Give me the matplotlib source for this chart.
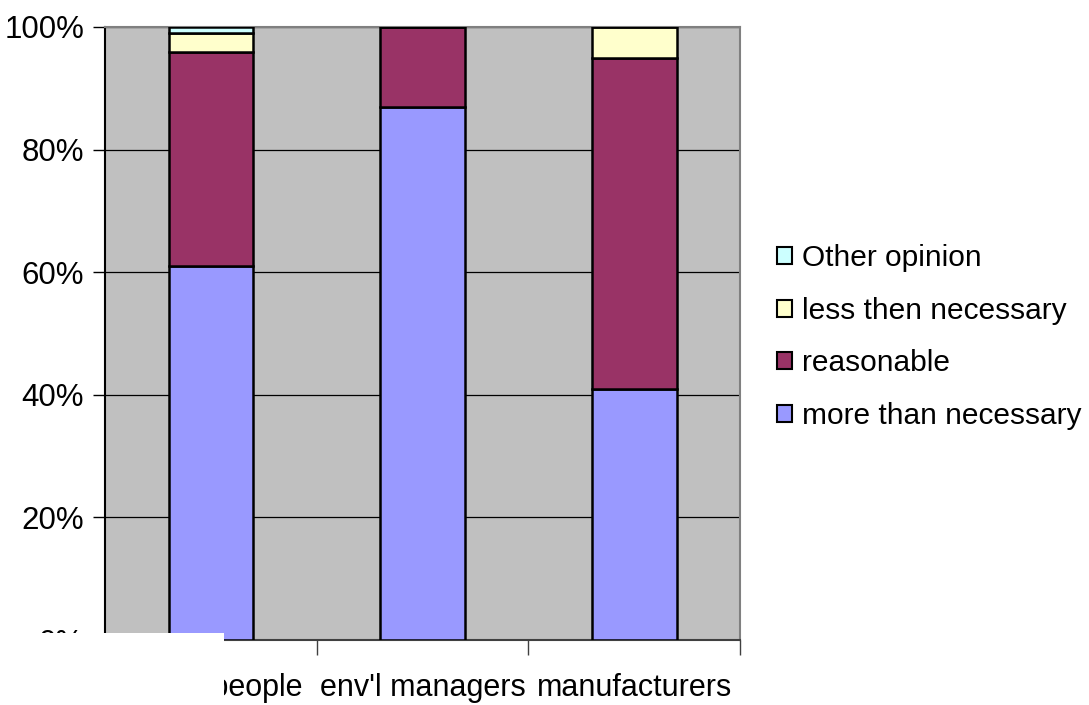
import matplotlib.pyplot as plt
import numpy as np
from matplotlib.patches import Rectangle, Patch

plt.rcParams['font.family'] = ['Liberation Sans', 'DejaVu Sans']

groups = ['young people', "env'l managers", 'manufacturers']
more_than = [61, 87, 41]
reasonable = [35, 13, 54]
less_then = [3, 0, 5]
other = [1, 0, 0]

series = [('more than necessary', more_than, '#9999FF'),
          ('reasonable', reasonable, '#993366'),
          ('less then necessary', less_then, '#FFFFCC'),
          ('Other opinion', other, '#CCFFFF')]

fig = plt.figure(figsize=(10.89, 7.05), dpi=100)
ax = fig.add_axes([105 / 1089, 1 - 640 / 705, 635 / 1089, 613 / 705])
ax.set_facecolor('#C0C0C0')

x = np.arange(len(groups))
bottom = np.zeros(len(groups))
for name, vals, col in series:
    vals = np.array(vals, dtype=float)
    ax.bar(x, vals, 0.4, bottom=bottom, color=col, edgecolor='black',
           linewidth=1.8, zorder=3, label=name)
    bottom += vals

ax.set_xlim(-0.5, 2.5)
ax.set_ylim(0, 100)
ax.set_yticks(np.arange(0, 101, 20))
ax.set_yticklabels(['%d%%' % v for v in range(0, 101, 20)], fontsize=22.5)
ax.yaxis.grid(True, color='black', linewidth=0.9)
ax.set_axisbelow(True)

ax.set_xticks(x)
ax.set_xticklabels(groups, fontsize=22)
ax.set_xticks([0.5, 1.5, 2.5], minor=True)
ax.tick_params(axis='x', which='major', length=0, pad=24)
ax.tick_params(axis='x', which='minor', length=11, width=1, color='#404040')
ax.tick_params(axis='y', length=9, width=1, pad=6)

ax.spines['left'].set_color('black')
ax.spines['bottom'].set_color('#404040')
ax.spines['top'].set_color('#808080')
ax.spines['right'].set_color('#808080')
for s in ax.spines.values():
    s.set_linewidth(1.5)

handles = [Patch(facecolor=c, edgecolor='black', linewidth=1.5) for _, _, c in series][::-1]
labels = [n for n, _, _ in series][::-1]
fig.legend(handles, labels, loc='center left', bbox_to_anchor=(777 / 1089, 1 - 337 / 705),
           frameon=False, fontsize=21.5, handlelength=0.5, handleheight=0.5,
           handletextpad=0.35, labelspacing=0.82, borderaxespad=0, borderpad=0)

# white patch over the lower left corner
fig.add_artist(Rectangle((0, 0), 224 / 1089, 1 - 633 / 705, transform=fig.transFigure,
                         facecolor='white', edgecolor='none', zorder=10))

fig.savefig('out.png', dpi=100)
